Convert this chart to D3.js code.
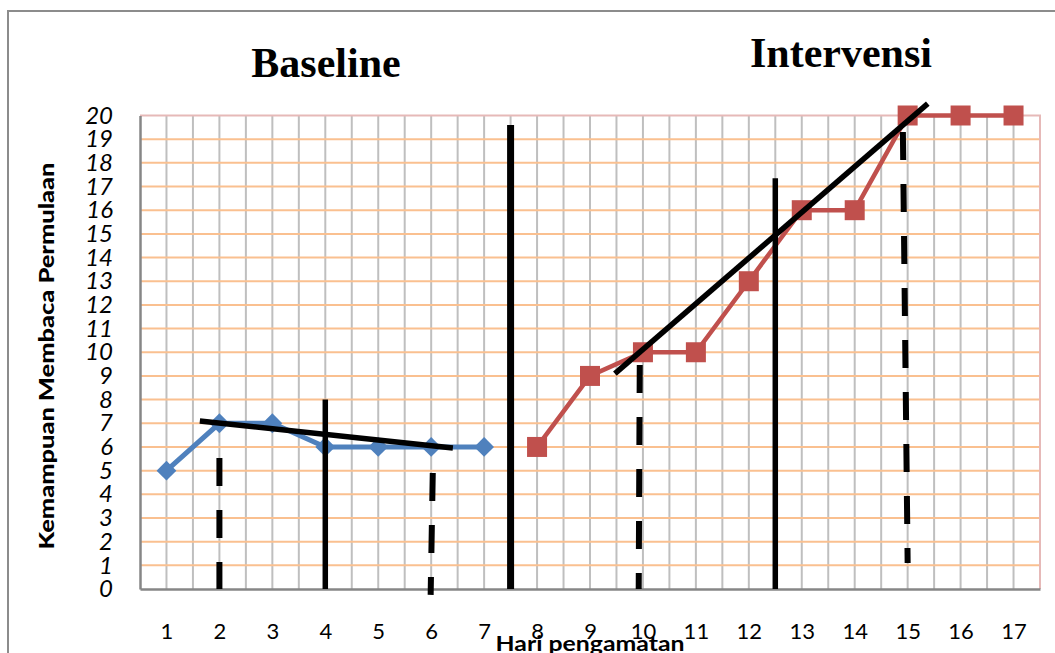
<!DOCTYPE html>
<html>
<head>
<meta charset="utf-8">
<script src="https://cdn.jsdelivr.net/npm/d3@7"></script>
<style>
  body { margin: 0; background: #fff; }
  svg { display: block; }
</style>
</head>
<body>
<div id="chart"></div>
<script>
// days on the x axis
const days = [1, 2, 3, 4, 5, 6, 7, 8, 9, 10, 11, 12, 13, 14, 15, 16, 17];
const yTicks = [0, 1, 2, 3, 4, 5, 6, 7, 8, 9, 10, 11, 12, 13, 14, 15, 16, 17, 18, 19, 20];

// baseline phase (blue diamonds)
const baselineDays = [1, 2, 3, 4, 5, 6, 7];
const baselineValues = [5, 7, 7, 6, 6, 6, 6];

// intervention phase (red squares)
const interventionDays = [8, 9, 10, 11, 12, 13, 14, 15, 16, 17];
const interventionValues = [6, 9, 10, 10, 13, 16, 16, 20, 20, 20];

// hand-drawn marks, in chart units [day, value]
const trendLines = [
    [[1.63, 7.1], [6.41, 5.96]],
    [[9.47, 9.1], [15.38, 20.5]]
];
const solidLines = [
    [[7.5, 19.6], [7.5, 0]],
    [[4, 8.0], [4, 0]],
    [[12.5, 17.35], [12.5, 0]]
];
const dashedLines = [
    [[2, 5.53], [2, 0]],
    [[6.03, 4.9], [5.99, -0.25]],
    [[9.94, 9.46], [9.92, 0]],
    [[14.91, 19.3], [15.0, 1.1]]
];

const W = 1055, H = 653;
const margin = { top: 115.5, right: 15, bottom: 64, left: 140 };
const tickFont = "Lato, 'Open Sans', sans-serif";

const svg = d3.select("#chart").append("svg")
    .attr("width", W)
    .attr("height", H);

// outer chart frame
svg.append("rect")
    .attr("x", 8).attr("y", 11)
    .attr("width", 1100).attr("height", 700)
    .attr("fill", "none")
    .attr("stroke", "#8c8c8c")
    .attr("stroke-width", 2);

const x = d3.scaleLinear().domain([0.5, 17.5]).range([margin.left, W - margin.right]);
const y = d3.scaleLinear().domain([0, 20]).range([H - margin.bottom, margin.top]);

const g = svg.append("g");

// vertical grid at every half day
const gridX = d3.range(2, 35).map(d => d / 2);
g.selectAll("line.vgrid").data(gridX).enter().append("line")
    .attr("class", "vgrid")
    .attr("x1", d => x(d)).attr("x2", d => x(d))
    .attr("y1", y(20)).attr("y2", y(0))
    .attr("stroke", "#bfbfbf")
    .attr("stroke-width", 2);

// horizontal grid
g.selectAll("line.hgrid").data(yTicks.filter(d => d > 0 && d < 20)).enter().append("line")
    .attr("class", "hgrid")
    .attr("x1", x(0.5)).attr("x2", x(17.5))
    .attr("y1", d => y(d)).attr("y2", d => y(d))
    .attr("stroke", "#fac090")
    .attr("stroke-width", 2);

// top & right border (pinkish)
g.append("path")
    .attr("d", `M${x(0.5)},${y(20)}H${x(17.5)}V${y(0)}`)
    .attr("fill", "none")
    .attr("stroke", "#e6b9b8")
    .attr("stroke-width", 2);

// axes
const yAxis = d3.axisLeft(y).tickValues(yTicks).tickSize(0).tickPadding(27);
g.append("g")
    .attr("transform", `translate(${x(0.5)},0)`)
    .call(yAxis)
    .call(s => s.select(".domain").attr("stroke", "#868686").attr("stroke-width", 2.5))
    .call(s => s.selectAll(".tick text")
        .style("font-family", tickFont)
        .style("font-style", "italic")
        .style("font-size", "24px")
        .attr("fill", "#000"));

const xAxis = d3.axisBottom(x).tickValues(days).tickSize(0).tickPadding(0);
g.append("g")
    .attr("transform", `translate(0,${y(0)})`)
    .call(xAxis)
    .call(s => s.select(".domain").attr("stroke", "#868686").attr("stroke-width", 2.5))
    .call(s => s.selectAll(".tick text")
        .attr("dy", null).attr("y", 50)
        .style("font-family", tickFont)
        .style("font-size", "22px")
        .attr("fill", "#000"));

// series
const line = d3.line().x(d => x(d[0])).y(d => y(d[1]));
const baseData = baselineDays.map((d, i) => [d, baselineValues[i]]);
const intData = interventionDays.map((d, i) => [d, interventionValues[i]]);

g.append("path")
    .datum(baseData)
    .attr("d", line)
    .attr("fill", "none")
    .attr("stroke", "#4f81bd")
    .attr("stroke-width", 5);

g.selectAll("path.diamond").data(baseData).enter().append("path")
    .attr("class", "diamond")
    .attr("d", d3.symbol(d3.symbolDiamond2, 250))
    .attr("transform", d => `translate(${x(d[0])},${y(d[1])})`)
    .attr("fill", "#4f81bd");

g.append("path")
    .datum(intData)
    .attr("d", line)
    .attr("fill", "none")
    .attr("stroke", "#c0504d")
    .attr("stroke-width", 4.5);

g.selectAll("rect.sq").data(intData).enter().append("rect")
    .attr("class", "sq")
    .attr("x", d => x(d[0]) - 10)
    .attr("y", d => y(d[1]) - 10)
    .attr("width", 20).attr("height", 20)
    .attr("fill", "#c0504d");

// hand-drawn black lines
g.selectAll("path.trend").data(trendLines).enter().append("path")
    .attr("class", "trend")
    .attr("d", line)
    .attr("stroke", "#000")
    .attr("stroke-width", 5.5);

g.selectAll("path.solid").data(solidLines).enter().append("path")
    .attr("class", "solid")
    .attr("d", line)
    .attr("stroke", "#000")
    .attr("stroke-width", (d, i) => i === 0 ? 7 : 5.5);

g.selectAll("path.dashed").data(dashedLines).enter().append("path")
    .attr("class", "dashed")
    .attr("d", line)
    .attr("stroke", "#000")
    .attr("stroke-width", 6)
    .attr("stroke-dasharray", "28 24");

// phase titles
svg.append("text")
    .attr("x", 326).attr("y", 77)
    .attr("text-anchor", "middle")
    .style("font-family", "'Liberation Serif', 'Times New Roman', serif")
    .style("font-weight", "bold")
    .style("font-size", "42px")
    .text("Baseline");

svg.append("text")
    .attr("x", 841).attr("y", 67)
    .attr("text-anchor", "middle")
    .style("font-family", "'Liberation Serif', 'Times New Roman', serif")
    .style("font-weight", "bold")
    .style("font-size", "42px")
    .text("Intervensi");

// axis titles
svg.append("text")
    .attr("x", 590).attr("y", 651)
    .attr("text-anchor", "middle")
    .style("font-family", tickFont)
    .style("font-weight", "bold")
    .style("font-size", "21px")
    .attr("textLength", 189)
    .attr("lengthAdjust", "spacingAndGlyphs")
    .text("Hari pengamatan");

svg.append("text")
    .attr("transform", "translate(54,356) rotate(-90)")
    .attr("text-anchor", "middle")
    .style("font-family", tickFont)
    .style("font-weight", "900")
    .style("font-size", "20px")
    .attr("textLength", 387)
    .attr("lengthAdjust", "spacingAndGlyphs")
    .text("Kemampuan Membaca Permulaan");
</script>
</body>
</html>
